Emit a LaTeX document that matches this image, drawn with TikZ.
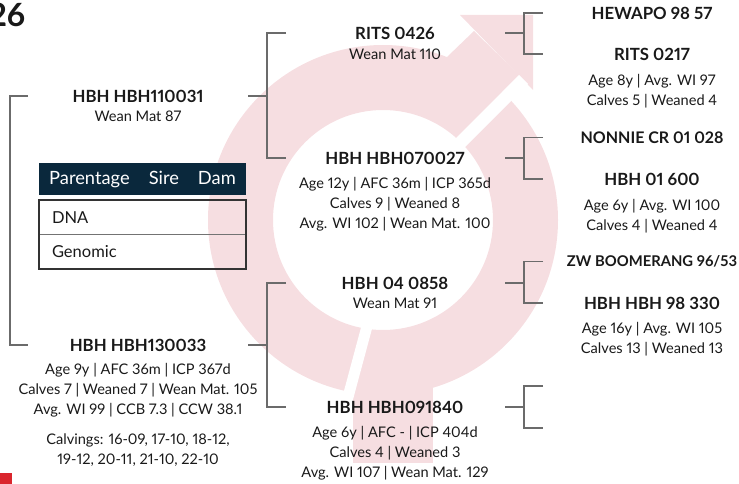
\documentclass[tikz,border=0pt]{standalone}
\usepackage{fontspec}
\setmainfont{Lato}[Numbers=Proportional]
\usetikzlibrary{positioning}
\definecolor{pinkbg}{RGB}{246,222,225}
\definecolor{navy}{RGB}{10,40,60}
\definecolor{corner}{RGB}{218,37,45}
\definecolor{ink}{RGB}{25,25,25}

\begin{document}
\begin{tikzpicture}[x=1pt, y=-1pt,
  idtag/.style={font=\bfseries\fontsize{16.8}{19}\selectfont, text=ink, inner sep=0pt},
  idsmall/.style={idtag, font=\bfseries\fontsize{14.8}{17}\selectfont},
  facts/.style={font=\fontsize{14.6}{20}\selectfont, text=ink, align=center, inner sep=0pt},
  br/.style={draw=black!58, line width=1.1pt},
  hdr/.style={fill=navy, text=white, minimum width=207pt, minimum height=32pt, inner sep=0pt,
              font=\fontsize{18.3}{20}\selectfont},
  rowc/.style={minimum height=34pt, text width=181pt, inner xsep=13pt, inner ysep=0pt, align=left,
               font=\fontsize{16.5}{18}\selectfont, text=ink}
]
\useasboundingbox (0,0) rectangle (739,484);
% background sign
\fill[pinkbg, even odd rule] (383,220) circle[radius=175pt] (383,220) circle[radius=110pt];
\fill[pinkbg] (474,31) -- (519,75) -- (456,138) -- (447,57) -- cycle;
\fill[pinkbg] (460,15) -- (533,15) -- (533,90) -- cycle;
\fill[pinkbg] (353,380) rectangle (433,463);
\fill[white] (519,75) -- (528,84) -- (396,216) -- (387,207) -- cycle;
\fill[white] (375.4,316.2) -- (349.4,413) -- (338.8,410.2) -- (364.8,313.4) -- cycle;
\fill[corner] (0,473) rectangle (12,484);

\node[font=\bfseries\fontsize{32}{36}\selectfont, text=ink, anchor=east, inner sep=0pt] (yr) at (25.5,15) {26};

% parents
\node[idtag] (sire) at (138,96) {HBH HBH110031};
\node[facts, below=8pt of sire] (siref) {Wean Mat 87};
\node[idtag] (dam) at (138,345) {HBH HBH130033};
\node[facts, below=12pt of dam] (damf) {Age 9y | AFC 36m | ICP 367d\\Calves 7 | Weaned 7 | Wean Mat. 105\\
  Avg. WI 99 | CCB 7.3 | CCW 38.1\\[10pt]Calvings: 16-09, 17-10, 18-12,\\19-12, 20-11, 21-10, 22-10};

% parentage table
\node[hdr] (thead) at (142.5,179) {Parentage\hspace{19pt}Sire\hspace{19pt}Dam};
\node[rowc, below=5pt of thead] (dna) {DNA};
\node[rowc, below=0pt of dna] (gen) {Genomic};
\draw[black!55, line width=0.8pt] (dna.south west) -- (dna.south east);
\draw[black!80, line width=1.8pt] (dna.north west) rectangle (gen.south east);

% grandparents
\node[idtag] (ss) at (395,33) {RITS 0426};
\node[facts, below=9pt of ss] (ssf) {Wean Mat 110};
\node[idtag] (sd) at (395,158) {HBH HBH070027};
\node[facts, below=13pt of sd] (sdf) {Age 12y | AFC 36m | ICP 365d\\Calves 9 | Weaned 8\\Avg. WI 102 | Wean Mat. 100};
\node[idtag] (ds) at (395,283) {HBH 04 0858};
\node[facts, below=8pt of ds] (dsf) {Wean Mat 91};
\node[idtag] (dd) at (395,407) {HBH HBH091840};
\node[facts, below=13pt of dd] (ddf) {Age 6y | AFC - | ICP 404d\\Calves 4 | Weaned 3\\Avg. WI 107 | Wean Mat. 129};

% great-grandparents
\node[idtag] (sss) at (652,13) {HEWAPO 98 57};
\node[idtag] (ssd) at (652,54) {RITS 0217};
\node[facts, below=14pt of ssd] (ssdf) {Age 8y | Avg. WI 97\\Calves 5 | Weaned 4};
\node[idtag, font=\bfseries\fontsize{16}{18}\selectfont] (sds) at (652,137.5) {NONNIE CR 01 028};
\node[idtag] (sdd) at (652,179) {HBH 01 600};
\node[facts, below=14pt of sdd] (sddf) {Age 6y | Avg. WI 100\\Calves 4 | Weaned 4};
\node[idsmall] (dss) at (652,261.5) {ZW BOOMERANG 96/53};
\node[idtag] (dsd) at (652,303) {HBH HBH 98 330};
\node[facts, below=13pt of dsd] (dsdf) {Age 16y | Avg. WI 105\\Calves 13 | Weaned 13};
\coordinate (dds) at (652,386);
\coordinate (ddd) at (652,428);

% brackets
\draw[br] (28,0 |- sire) -| (10,0 |- dam) -- (28,0 |- dam);
\draw[br] (248,0 |- sire) -- (267,0 |- sire);
\draw[br] (286,0 |- ss) -| (267,0 |- sd) -- (286,0 |- sd);
\draw[br] (248,0 |- dam) -- (267,0 |- dam);
\draw[br] (286,0 |- ds) -| (267,0 |- dd) -- (286,0 |- dd);
\draw[br] (505,0 |- ss) -- (524,0 |- ss);
\draw[br] (543,0 |- sss) -| (524,0 |- ssd) -- (543,0 |- ssd);
\draw[br] (505,0 |- sd) -- (524,0 |- sd);
\draw[br] (543,0 |- sds) -| (524,0 |- sdd) -- (543,0 |- sdd);
\draw[br] (505,0 |- ds) -- (524,0 |- ds);
\draw[br] (543,0 |- dss) -| (524,0 |- dsd) -- (543,0 |- dsd);
\draw[br] (505,0 |- dd) -- (524,0 |- dd);
\draw[br] (543,0 |- dds) -| (524,0 |- ddd) -- (543,0 |- ddd);
\end{tikzpicture}
\end{document}
